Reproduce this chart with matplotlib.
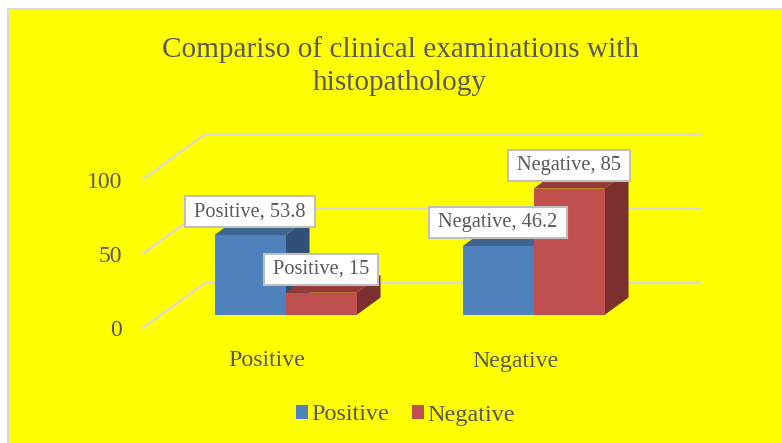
import numpy as np
import matplotlib
matplotlib.use('Agg')
import matplotlib.pyplot as plt
from matplotlib.patches import Polygon, Rectangle

categories = ['Positive', 'Negative']
series_names = ['Positive', 'Negative']
positive_vals = [53.8, 46.2]
negative_vals = [15, 85]
y_ticks = [0, 50, 100]

W, H = 782, 443
# one unit of x = 248 px, one unit of y = 1.487 px
PX, PY = 248.0, 1.487
X0, Y0 = 285.5, 315.0
BAR_W = 71 / PX
DX, DY = 24 / PX, 17.5 / PY
TEXT = '#595959'
GRID = '#D9D9D9'

plt.rcParams['font.family'] = ['Liberation Serif', 'DejaVu Serif']

fig = plt.figure(figsize=(W / 100, H / 100), dpi=100, facecolor='white')
ax = fig.add_axes([0, 0, 1, 1])
ax.set_xlim(-X0 / PX, (W - X0) / PX)
ax.set_ylim((Y0 - H) / PY, Y0 / PY)
ax.axis('off')

def px(x, y):
    return (x - X0) / PX, (Y0 - y) / PY

# chart area with thin border
x1, y1 = px(8, 9)
x2, y2 = px(W + 5, H + 5)
ax.add_patch(Rectangle((x1, y2), x2 - x1, y1 - y2, fc='#FFFF00', ec=GRID, lw=1.5, zorder=0))

# gridlines on floor/back wall
gx0 = px(143, 0)[0]
gx1 = px(205, 0)[0]
gx2 = px(700, 0)[0]
front = -13 / PY
back = 32 / PY
for t in y_ticks:
    ax.plot([gx0, gx1, gx2], [t + front, t + back, t + back], color=GRID, lw=1.6, zorder=1,
            solid_joinstyle='miter')
    ax.text(px(122, 0)[0], t + front - 3 / PY, str(t), ha='right', va='center', fontsize=17, color=TEXT)

def bar3d(xl, v, front_col, top_col, side_col, z):
    xr = xl + BAR_W
    ax.bar(xl, v, BAR_W, align='edge', color=front_col, zorder=z + 0.2)
    ax.add_patch(Polygon([(xl, v), (xr, v), (xr + DX, v + DY), (xl + DX, v + DY)], fc=top_col, zorder=z))
    ax.add_patch(Polygon([(xr, 0), (xr + DX, DY), (xr + DX, v + DY), (xr, v)], fc=side_col, zorder=z))

for i in range(len(categories)):
    bar3d(i - BAR_W, positive_vals[i], '#4F81BD', '#3E6590', '#30507A', 2)
    bar3d(i, negative_vals[i], '#C0504D', '#953A38', '#7B2F2E', 3)

# data labels, box is sized from the text extent
renderer = fig.canvas.get_renderer()
for i in range(len(categories)):
    for xc, v in [(i - BAR_W / 2, positive_vals[i]), (i + BAR_W / 2, negative_vals[i])]:
        t = ax.annotate(f'{categories[i]}, {v}', (xc, v), xytext=(0, 16.8), textcoords='offset points',
                        ha='center', va='center', fontsize=14.7, color=TEXT, zorder=6)
        bb = t.get_window_extent(renderer)
        cy = (bb.y0 + bb.y1) / 2
        ax.add_patch(Rectangle((bb.x0 - 9, cy - 15.5), bb.width + 18, 31, fc='white', ec='#BFBFBF', lw=1.5,
                               transform=None, zorder=5.5))

# category labels
for i, c in enumerate(categories):
    ax.text(i - 18.5 / PX, px(0, 361)[1], c, ha='center', va='center', fontsize=17.2, color=TEXT)

fig.text(400 / W, 1 - 66 / H, 'Compariso of clinical examinations with\nhistopathology', ha='center', va='center',
         fontsize=21.1, color=TEXT, linespacing=1.34)

handles = [Rectangle((0, 0), 1, 1, fc='#4F81BD'), Rectangle((0, 0), 1, 1, fc='#C0504D')]
fig.legend(handles, series_names, loc='center', bbox_to_anchor=(405.5 / W, 1 - 415 / H), ncol=2, frameon=False,
           fontsize=17.4, labelcolor=TEXT, handlelength=0.5, handleheight=0.5, handletextpad=0.13, columnspacing=0.95)

fig.savefig('out.png', dpi=100)
